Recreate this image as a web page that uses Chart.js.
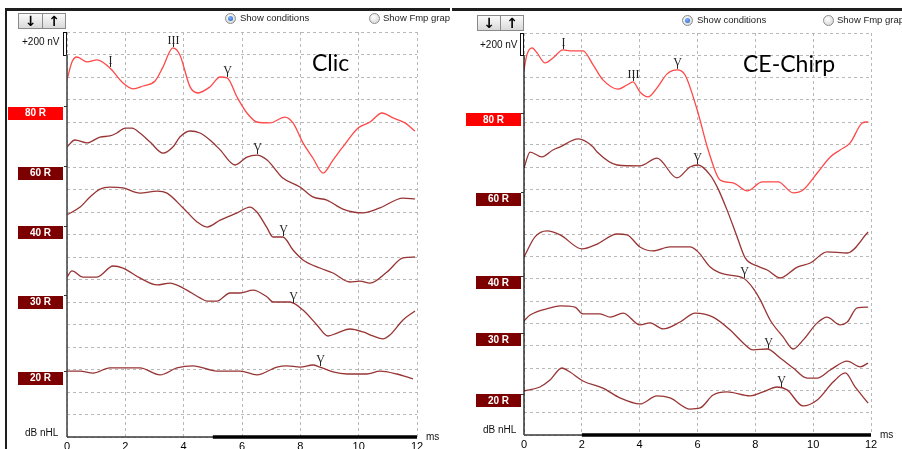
<!DOCTYPE html>
<html>
<head>
<meta charset="utf-8">
<script src="https://cdn.jsdelivr.net/npm/chart.js@4"></script>
<style>
  html, body { margin: 0; padding: 0; background: #fff; }
  #wrap { position: relative; width: 902px; height: 449px; overflow: hidden; background: #fff; font-family: "Liberation Sans", Arial, sans-serif; }
  canvas { position: absolute; top: 0; }
  .pane { position: absolute; top: 0; height: 449px; overflow: hidden; }
  .rule { position: absolute; background: #1e1e1e; }
  .btn { position: absolute; height: 16px; border: 1px solid #8a8a8a; background: linear-gradient(#fbfbfb, #d9d9d9); box-sizing: border-box; text-align: center; font: bold 14px "DejaVu Sans", sans-serif; line-height: 15px; color: #000; }
  .radio { position: absolute; width: 11px; height: 11px; border-radius: 50%; border: 1px solid #8c8c8c; box-sizing: border-box; background: radial-gradient(circle at 40% 35%, #ffffff, #cfcfcf); }
  .radio.on::after { content: ""; position: absolute; left: 2px; top: 2px; width: 5px; height: 5px; border-radius: 50%; background: radial-gradient(circle at 40% 35%, #7fb2ff, #1f5fc4); }
  .opt { position: absolute; font-size: 9.5px; line-height: 12px; color: #222; white-space: nowrap; }
  .small { position: absolute; font-size: 10px; line-height: 12px; color: #111; white-space: nowrap; }
  .title { position: absolute; font-family: Lato, "Open Sans", sans-serif; font-size: 23px; line-height: 23px; color: #000; white-space: nowrap; }
</style>
</head>
<body>
<div id="wrap">
  <!-- left panel: click stimulus -->
  <div class="pane" style="left:0; width:450px">
    <canvas id="clicChart" width="450" height="449" style="left:0"></canvas>
    <div class="rule" style="left:5px; top:8px; width:445px; height:3px"></div>
    <div class="rule" style="left:5px; top:8px; width:2px; height:441px"></div>
    <div class="btn" style="left:18px; top:13px; width:25px">↓</div>
    <div class="btn" style="left:42px; top:13px; width:24px">↑</div>
    <div class="radio on" style="left:225px; top:13px"></div>
    <div class="opt" style="left:240px; top:12px">Show conditions</div>
    <div class="radio" style="left:369px; top:13px"></div>
    <div class="opt" style="left:383px; top:12px">Show Fmp graph</div>
    <div class="small" style="left:22px; top:36px">+200 nV</div>
    <div class="small" style="left:25px; top:427px">dB nHL</div>
    <div class="small" style="left:426px; top:431px">ms</div>
    <div class="title" style="left:312px; top:51px">Clic</div>
  </div>

  <!-- right panel: CE-Chirp stimulus -->
  <div class="pane" style="left:450px; width:452px">
    <canvas id="chirpChart" width="452" height="449" style="left:0"></canvas>
    <div class="rule" style="left:2px; top:8px; width:450px; height:3px"></div>
    <div class="btn" style="left:27px; top:15px; width:24px">↓</div>
    <div class="btn" style="left:50px; top:15px; width:24px">↑</div>
    <div class="radio on" style="left:232px; top:15px"></div>
    <div class="opt" style="left:247px; top:14px">Show conditions</div>
    <div class="radio" style="left:373px; top:15px"></div>
    <div class="opt" style="left:387px; top:14px">Show Fmp graph</div>
    <div class="small" style="left:30px; top:39px">+200 nV</div>
    <div class="small" style="left:33px; top:424px">dB nHL</div>
    <div class="small" style="left:430px; top:429px">ms</div>
    <div class="title" style="left:293px; top:52px">CE-Chirp</div>
  </div>
</div>

<script>
// Stimulus levels, top to bottom
const levels = ['80 R', '60 R', '40 R', '30 R', '20 R'];

// Click ABR traces: [latency ms, amplitude in 200 nV divisions, offset stacked]
const clic80 = [[0,15.87],[0.17,16.67],[0.34,16.89],[0.69,16.67],[1.03,16.76],[1.47,16.40],[1.92,15.73],[2.26,15.47],[2.61,15.60],[3.02,15.82],[3.29,16.44],[3.63,17.29],[3.87,16.98],[4.22,15.56],[4.49,15.29],[4.90,15.56],[5.25,16.00],[5.49,15.96],[5.83,15.11],[6.17,14.40],[6.51,14.00],[6.96,13.96],[7.47,14.22],[7.75,13.96],[8.09,13.07],[8.43,12.40],[8.78,11.73],[9.12,12.31],[9.46,12.89],[9.98,13.73],[10.39,14.00],[10.80,14.40],[11.18,14.18],[11.59,13.96],[11.93,13.60]];
const clic60 = [[0,12.89],[0.27,13.20],[0.69,13.07],[1.13,13.33],[1.47,13.38],[1.71,13.51],[1.99,13.73],[2.23,13.73],[2.50,13.51],[2.85,13.11],[3.29,12.62],[3.63,12.89],[3.87,13.33],[4.22,13.60],[4.56,13.51],[4.90,13.20],[5.25,12.76],[5.76,12.09],[6.17,12.44],[6.51,12.53],[6.86,12.31],[7.40,11.51],[7.99,11.11],[8.43,10.67],[8.91,10.53],[9.46,10.13],[10.15,9.96],[10.73,10.18],[11.52,10.62],[11.93,10.58]];
const clic40 = [[0,9.87],[0.45,10.22],[0.79,10.67],[1.13,11.02],[1.47,11.11],[1.92,11.07],[2.50,10.84],[3.09,10.93],[3.43,10.84],[3.98,10.18],[4.46,9.56],[4.80,9.33],[5.25,9.64],[5.83,9.96],[6.27,10.22],[6.51,10.00],[6.86,9.29],[7.06,8.89],[7.40,8.89],[7.75,8.31],[8.09,7.87],[8.67,7.51],[9.12,7.29],[9.70,6.89],[10.04,6.93],[10.39,6.84],[10.97,7.33],[11.52,7.96],[11.93,8.00]];
const clic30 = [[0,7.11],[0.17,7.38],[0.55,7.11],[1.03,7.11],[1.58,7.60],[1.92,7.51],[2.50,7.07],[3.09,6.76],[3.53,6.84],[3.98,6.62],[4.56,6.18],[4.80,6.04],[5.14,6.04],[5.59,6.40],[5.93,6.40],[6.38,6.53],[6.86,6.22],[7.06,6.00],[7.64,6.00],[8.09,5.64],[8.57,4.98],[8.95,4.49],[9.26,4.62],[9.70,4.80],[10.15,4.67],[10.49,4.49],[10.83,4.36],[11.07,4.53],[11.52,5.20],[11.93,5.60]];
const clic20 = [[0,2.93],[0.45,2.93],[0.89,2.84],[1.47,3.07],[2.50,3.07],[3.19,2.76],[3.77,3.07],[4.32,3.16],[5.14,2.93],[5.93,2.93],[6.51,2.76],[7.20,3.11],[7.54,3.16],[7.99,3.11],[8.43,3.20],[8.67,3.11],[9.12,2.89],[9.60,2.80],[10.28,2.80],[10.73,2.93],[11.31,2.80],[11.86,2.58]];

// CE-Chirp ABR traces
const chirp80 = [[0,16.35],[0.10,17.02],[0.28,17.33],[0.45,17.11],[0.73,16.66],[1.00,16.88],[1.35,17.24],[1.59,17.20],[2.04,17.20],[2.39,16.57],[2.73,15.90],[3.25,15.49],[3.56,15.67],[3.77,15.81],[4.01,15.36],[4.29,15.14],[4.60,15.54],[4.95,16.17],[5.29,16.35],[5.57,16.12],[5.99,14.55],[6.37,12.76],[6.78,11.42],[7.23,11.29],[7.72,10.93],[8.24,11.33],[8.79,11.33],[9.31,10.84],[9.65,10.97],[10.14,11.73],[10.59,12.45],[10.93,12.76],[11.28,13.08],[11.70,13.97],[11.90,14.02]];
const chirp60 = [[0,11.96],[0.21,12.67],[0.62,12.45],[1.00,12.76],[1.25,12.90],[1.87,13.26],[2.39,12.90],[2.53,12.67],[3.22,12.09],[4.01,12.05],[4.60,12.40],[5.29,11.51],[5.74,12.00],[6.02,12.09],[6.44,11.64],[6.68,11.11],[7.02,10.08],[7.37,8.87],[7.65,7.93],[8.06,7.57],[8.41,7.39],[8.86,7.03],[9.45,7.52],[9.90,7.70],[10.48,8.20],[11.18,8.15],[11.90,9.09]];
const chirp40 = [[0,7.97],[0.38,8.87],[0.80,9.14],[1.25,8.96],[2.01,8.33],[2.53,8.55],[3.22,9.00],[3.56,8.96],[4.01,8.42],[4.46,8.24],[5.05,8.42],[5.74,8.42],[6.02,8.20],[6.44,7.52],[6.89,7.21],[7.58,7.03],[7.92,6.58],[8.17,6.05],[8.51,5.15],[8.96,4.39],[9.31,3.85],[9.65,4.25],[10.14,5.02],[10.48,5.28],[10.93,4.93],[11.18,5.06],[11.52,5.69],[11.90,5.73]];
const chirp30 = [[0,5.11],[0.21,5.37],[0.90,5.69],[1.25,5.78],[1.76,5.73],[2.04,5.42],[2.63,5.42],[2.98,5.28],[3.43,5.46],[4.01,4.93],[4.36,5.02],[4.81,4.75],[5.40,5.06],[5.92,5.46],[6.54,5.28],[7.13,4.70],[7.58,4.12],[7.92,3.81],[8.41,3.85],[8.86,3.45],[9.31,3.00],[9.79,2.55],[10.14,2.55],[10.59,2.91],[11.18,3.31],[11.63,3.05],[11.90,3.22]];
const chirp20 = [[0,1.97],[0.55,2.15],[0.90,2.46],[1.31,3.00],[1.59,2.82],[2.04,2.42],[2.73,2.10],[3.32,1.66],[4.01,1.39],[4.60,1.75],[5.05,1.66],[5.74,1.16],[6.09,1.21],[6.54,1.79],[7.02,1.93],[7.82,1.75],[8.27,1.93],[8.75,2.15],[9.10,2.02],[9.65,1.30],[10.14,1.57],[10.69,2.37],[11.11,2.78],[11.45,2.15],[11.90,1.43]];

// Trace baseline levels (divisions) for the level tags on the amplitude axis
const clicBaselines = [14.71, 12.04, 9.38, 6.31, 2.93];
const chirpBaselines = [14.42, 10.88, 7.12, 4.57, 1.84];

// Wave markers: [level, wave name, latency ms]
const clicPeaks = [['80 R','I',1.47],['80 R','III',3.63],['80 R','V',5.49],['60 R','V',6.51],['40 R','V',7.40],['30 R','V',7.75],['20 R','V',8.67]];
const chirpPeaks = [['80 R','I',1.35],['80 R','III',3.77],['80 R','V',5.29],['60 R','V',5.99],['40 R','V',7.61],['30 R','V',8.44],['20 R','V',8.89]];

// Analysis window (ms) marked on the time axis
const clicWindow = [5, 12];
const chirpWindow = [2, 12];

// Time axis ticks
const timeMin = 0, timeMax = 12, timeStep = 2;

const RED = 'rgb(255,72,72)';
const BROWN = 'rgb(152,52,52)';

function valueAt(trace, t) {
  for (let i = 1; i < trace.length; i++) {
    if (t <= trace[i][0]) {
      const [t0, v0] = trace[i - 1], [t1, v1] = trace[i];
      return v0 + (v1 - v0) * (t - t0) / (t1 - t0);
    }
  }
  return trace[trace.length - 1][1];
}

const panelDecor = {
  id: 'panelDecor',
  afterDraw(chart, args, o) {
    const { ctx, chartArea: a, scales: { x, y } } = chart;
    const top = y.getPixelForValue(18);
    const div = y.getPixelForValue(17) - top;
    ctx.save();

    // +200 nV calibration bracket
    ctx.strokeStyle = '#111';
    ctx.lineWidth = 1;
    ctx.strokeRect(Math.round(a.left) - 3.5, Math.round(top) + 0.5, 3, Math.round(div));

    // amplitude axis
    ctx.strokeStyle = o.axisColor;
    ctx.lineWidth = o.axisWidth;
    ctx.beginPath();
    ctx.moveTo(a.left, y.getPixelForValue(17));
    ctx.lineTo(a.left, a.bottom);
    ctx.stroke();

    // time axis and analysis window bar
    ctx.strokeStyle = '#3a3a3a';
    ctx.lineWidth = 1.5;
    ctx.beginPath();
    ctx.moveTo(a.left, a.bottom);
    ctx.lineTo(a.right, a.bottom);
    ctx.stroke();
    ctx.strokeStyle = '#000';
    ctx.lineWidth = 3.5;
    ctx.beginPath();
    ctx.moveTo(x.getPixelForValue(o.window[0]), a.bottom);
    ctx.lineTo(x.getPixelForValue(o.window[1]), a.bottom);
    ctx.stroke();

    // level tags
    ctx.font = 'bold 10px "Liberation Sans", Arial, sans-serif';
    ctx.textAlign = 'center';
    ctx.textBaseline = 'middle';
    levels.forEach((lv, i) => {
      const py = y.getPixelForValue(o.baselines[i]);
      ctx.strokeStyle = '#333';
      ctx.lineWidth = 1;
      ctx.beginPath();
      ctx.moveTo(a.left - 3, Math.round(py) + 0.5);
      ctx.lineTo(a.left, Math.round(py) + 0.5);
      ctx.stroke();
      const w = i === 0 ? 55 : 45;
      const right = a.left - o.tagGap;
      const cy = py + 7;
      ctx.fillStyle = i === 0 ? '#ff0000' : '#7c0000';
      ctx.fillRect(right - w, Math.round(cy - 6.5), w, 13);
      ctx.fillStyle = '#fff';
      ctx.fillText(lv, right - w / 2, cy + 0.5);
    });

    // wave markers
    ctx.fillStyle = '#222';
    ctx.strokeStyle = '#222';
    ctx.font = '12px "Liberation Serif", "DejaVu Serif", serif';
    ctx.textBaseline = 'alphabetic';
    o.peaks.forEach(([lv, name, t]) => {
      const trace = o.traces[levels.indexOf(lv)];
      const px = Math.round(x.getPixelForValue(t)) + 0.5;
      const py = y.getPixelForValue(valueAt(trace, t));
      ctx.lineWidth = 1;
      ctx.beginPath();
      ctx.moveTo(px, py - 1);
      ctx.lineTo(px, py - 5);
      ctx.stroke();
      ctx.fillText(name, px, py - 4);
    });
    ctx.restore();
  }
};

function buildPanel(canvasId, traces, peaks, baselines, win, geom) {
  const datasets = traces.map((tr, i) => ({
    label: levels[i],
    data: tr.map(p => ({ x: p[0], y: p[1] })),
    borderColor: i === 0 ? RED : BROWN,
    borderWidth: 1.3,
    pointRadius: 0,
    cubicInterpolationMode: 'monotone',
    fill: false
  }));
  const gridStyle = { color: '#b8b8b8', lineWidth: 1, drawTicks: false };
  return new Chart(document.getElementById(canvasId), {
    type: 'line',
    data: { datasets },
    options: {
      responsive: false,
      animation: false,
      events: [],
      layout: { padding: { top: geom.top, right: geom.right, left: 0, bottom: 0 } },
      plugins: {
        legend: { display: false },
        tooltip: { enabled: false },
        panelDecor: { traces, peaks, baselines, window: win, axisColor: geom.axisColor, axisWidth: geom.axisWidth, tagGap: geom.tagGap }
      },
      scales: {
        x: {
          type: 'linear', min: timeMin, max: timeMax,
          ticks: { stepSize: timeStep, color: '#000', padding: 3, maxRotation: 0, font: { family: '"Liberation Sans", Arial, sans-serif', size: 11 } },
          grid: gridStyle,
          border: { display: false, dash: [3, 3] },
          afterFit: s => { s.height = geom.bottom; }
        },
        y: {
          type: 'linear', min: 0, max: 18,
          ticks: { display: false, stepSize: 1 },
          grid: gridStyle,
          border: { display: false, dash: [3, 3] },
          afterFit: s => { s.width = geom.left; }
        }
      }
    },
    plugins: [panelDecor]
  });
}

buildPanel('clicChart', [clic80, clic60, clic40, clic30, clic20], clicPeaks, clicBaselines, clicWindow,
  { left: 67, right: 33, top: 32, bottom: 12, axisColor: '#4a4a4a', axisWidth: 1.6, tagGap: 4 });
buildPanel('chirpChart', [chirp80, chirp60, chirp40, chirp30, chirp20], chirpPeaks, chirpBaselines, chirpWindow,
  { left: 74, right: 31, top: 33, bottom: 14, axisColor: '#111', axisWidth: 1.3, tagGap: 3 });
</script>
</body>
</html>
